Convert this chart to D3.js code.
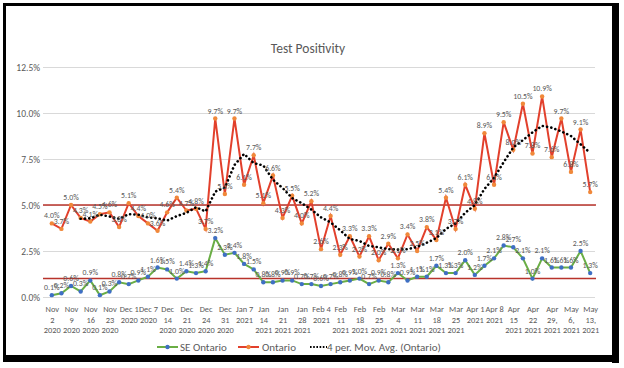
<!DOCTYPE html>
<html><head><meta charset="utf-8">
<script src="https://cdn.jsdelivr.net/npm/d3@7"></script>
<style>
html,body{margin:0;padding:0;background:#fff;}
svg{display:block;font-family:Calibri,Carlito,Lato,"Open Sans",sans-serif;}
</style></head>
<body>
<svg id="chart" width="624" height="368"></svg>
<script>
// ---- data ----
const tickLabels = [
 "Nov\n2\n2020","Nov\n9\n2020","Nov\n16\n2020","Nov\n23\n2020","Dec 1\n2020","Dec 7\n2020",
 "Dec\n14\n2020","Dec\n21\n2020","Dec\n24\n2020","Dec\n31\n2020","Jan 7\n2021","Jan\n14\n2021",
 "Jan\n21\n2021","Jan\n28\n2021","Feb 4\n2021","Feb\n11\n2021","Feb\n18\n2021","Feb\n25\n2021",
 "Mar\n4\n2021","Mar\n11\n2021","Mar\n18\n2021","Mar\n25\n2021","Apr 1\n2021","Apr 8\n2021",
 "Apr\n15\n2021","Apr\n22\n2021","Apr\n29,\n2021","May\n6,\n2021","May\n13,\n2021"
];
const ontario = [4.0,3.7,5.0,4.3,4.1,4.5,4.6,3.8,5.1,4.4,4.0,3.6,4.6,5.4,4.7,4.8,3.7,9.7,5.6,9.7,
 6.1,7.7,5.1,6.6,4.3,5.5,4.0,5.2,2.6,4.4,2.3,3.3,2.2,3.3,2.0,2.9,2.1,3.4,2.5,3.8,
 3.1,5.4,3.7,6.1,4.8,8.9,6.1,9.5,8.0,10.5,7.8,10.9,7.6,9.7,6.8,9.1,5.7];
const seOntario = [0.1,0.2,0.6,0.3,0.9,0.1,0.3,0.8,0.7,0.9,1.1,1.6,1.5,1.0,1.4,1.3,1.4,3.2,2.3,2.4,
 1.8,1.5,0.8,0.8,0.9,0.9,0.7,0.7,0.6,0.7,0.8,0.9,1.0,0.7,0.9,0.8,1.3,0.9,1.1,1.1,
 1.7,1.3,1.3,2.0,1.2,1.7,2.1,2.8,2.7,2.1,1.0,2.1,1.6,1.6,1.6,2.5,1.3];
const yTicks = [0,2.5,5,7.5,10,12.5];
const refLines = [5.0,1.0];
const maPeriod = 4;
const seriesNames = ["SE Ontario","Ontario","4 per. Mov. Avg. (Ontario)"];

// ---- layout ----
const svg = d3.select("#chart");
const W = 624, H = 368;
const plot = {left:47, right:595, top:67, bottom:297};
const idx = d3.range(ontario.length);
const x = d3.scalePoint().domain(idx).range([plot.left, plot.right]).padding(0.5);
const y = d3.scaleLinear().domain([0,12.5]).range([plot.bottom, plot.top]);

const grey = "#595959";
const cRed = "#E2402C", cOrange = "#F0883A", cGreen = "#6AAE45", cBlue = "#3F6FC4", cRef = "#B8332B";
const ff = "Calibri,Carlito,Lato,sans-serif";

svg.append("rect").attr("width",W).attr("height",H).attr("fill","#fff");

svg.append("text").attr("x",308).attr("y",53).attr("text-anchor","middle")
  .attr("font-size",13.5).attr("fill",grey).text("Test Positivity");

const yAxis = d3.axisLeft(y).tickValues(yTicks).tickSize(-(plot.right-plot.left+4))
  .tickFormat(d => d3.format(".1f")(d) + "%");
const gy = svg.append("g").attr("transform",`translate(${plot.left-4},0)`).call(yAxis);
gy.select(".domain").remove();
gy.selectAll(".tick line").attr("stroke","#D9D9D9").attr("stroke-width",1);
gy.selectAll(".tick text").attr("fill",grey).attr("font-size",9.5).attr("x",-3).attr("font-family",ff);

const xAxis = d3.axisBottom(x).tickValues(idx.filter(i => i % 2 === 0)).tickSize(0).tickFormat("");
const gx = svg.append("g").attr("transform",`translate(0,${plot.bottom})`).call(xAxis);
gx.select(".domain").remove();
gx.selectAll(".tick").each(function(d){
  const lines = tickLabels[d/2].split("\n");
  const t = d3.select(this).append("text").attr("fill",grey).attr("font-size",8.4)
    .attr("text-anchor","middle").attr("font-family",ff);
  lines.forEach((ln,k) => t.append("tspan").attr("x",0).attr("y",15 + k*10.5).text(ln));
});

svg.selectAll(".ref").data(refLines).join("line")
  .attr("x1",plot.left-4).attr("x2",plot.right+1)
  .attr("y1",d=>y(d)).attr("y2",d=>y(d))
  .attr("stroke",cRef).attr("stroke-width",1.5);

const ma = idx.map(i => i >= maPeriod-1 ? d3.mean(ontario.slice(i-maPeriod+1, i+1)) : null);
const line = d3.line().defined(d => d[1] != null).x(d => x(d[0])).y(d => y(d[1]));

svg.append("path").datum(idx.map(i=>[i,seOntario[i]])).attr("d",line)
  .attr("fill","none").attr("stroke",cGreen).attr("stroke-width",2);
svg.selectAll(".seDot").data(idx).join("circle")
  .attr("cx",i=>x(i)).attr("cy",i=>y(seOntario[i])).attr("r",2.2).attr("fill",cBlue);

svg.append("path").datum(idx.map(i=>[i,ontario[i]])).attr("d",line)
  .attr("fill","none").attr("stroke",cRed).attr("stroke-width",2);
svg.selectAll(".onDot").data(idx).join("circle")
  .attr("cx",i=>x(i)).attr("cy",i=>y(ontario[i])).attr("r",2.2).attr("fill",cOrange);

svg.append("path").datum(idx.map(i=>[i,ma[i]])).attr("d",line)
  .attr("fill","none").attr("stroke","#000").attr("stroke-width",2.6)
  .attr("stroke-dasharray","0.1 4.2").attr("stroke-linecap","round");

const fmt = d => d3.format(".1f")(d) + "%";
function labels(arr){
  svg.append("g").selectAll("text").data(idx).join("text")
    .attr("x",i=>x(i)).attr("y",i=>y(arr[i]) - 5)
    .attr("text-anchor","middle").attr("font-size",7.8).attr("fill",grey)
    .text(i=>fmt(arr[i]));
}
labels(seOntario);
labels(ontario);

const lg = svg.append("g").attr("font-size",11).attr("fill",grey);
const ly = 347;
lg.append("line").attr("x1",157).attr("x2",178).attr("y1",ly).attr("y2",ly).attr("stroke",cGreen).attr("stroke-width",2);
lg.append("circle").attr("cx",167.5).attr("cy",ly).attr("r",2.2).attr("fill",cBlue);
lg.append("text").attr("x",180).attr("y",ly+4).attr("fill",grey).text(seriesNames[0]);
lg.append("line").attr("x1",238).attr("x2",259).attr("y1",ly).attr("y2",ly).attr("stroke",cRed).attr("stroke-width",2);
lg.append("circle").attr("cx",248.5).attr("cy",ly).attr("r",2.2).attr("fill",cOrange);
lg.append("text").attr("x",262).attr("y",ly+4).attr("fill",grey).text(seriesNames[1]);
lg.append("line").attr("x1",310).attr("x2",327).attr("y1",ly).attr("y2",ly).attr("stroke","#000")
  .attr("stroke-width",1.8).attr("stroke-dasharray","1.6 1.6");
lg.append("text").attr("x",327).attr("y",ly+4).attr("fill",grey).text(seriesNames[2]);

svg.append("rect").attr("x",4.5).attr("y",4.5).attr("width",611).attr("height",352)
  .attr("fill","none").attr("stroke","#000").attr("stroke-width",3);
svg.append("rect").attr("x",612).attr("y",3).attr("width",7).attr("height",360).attr("fill","#000");
svg.append("rect").attr("x",3).attr("y",355).attr("width",616).attr("height",7).attr("fill","#000");
</script>
</body></html>
